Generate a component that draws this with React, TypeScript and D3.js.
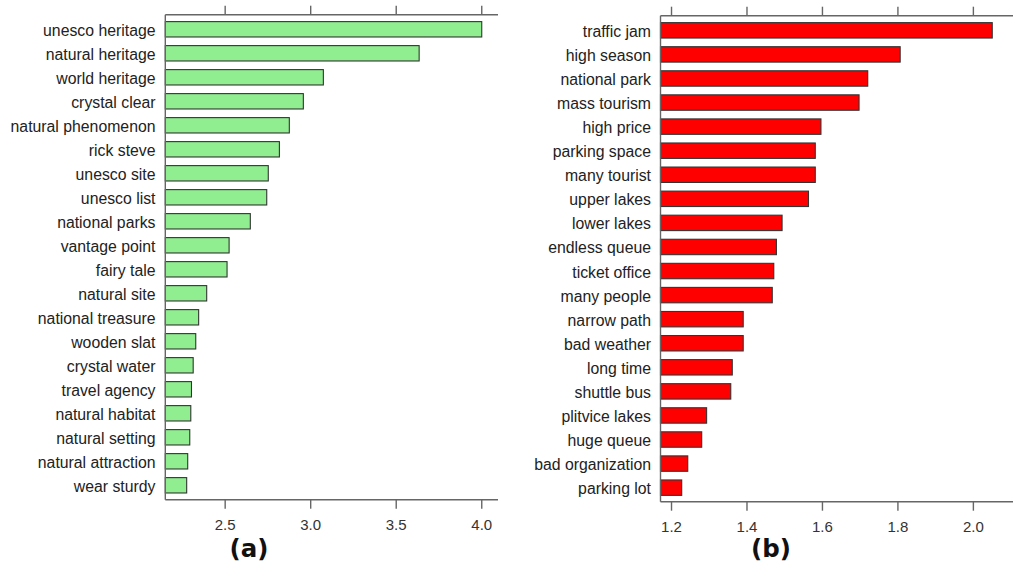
import React from "react";
import * as d3 from "d3";

// Panel (a): positive terms
const termsA = [
  "unesco heritage", "natural heritage", "world heritage", "crystal clear",
  "natural phenomenon", "rick steve", "unesco site", "unesco list",
  "national parks", "vantage point", "fairy tale", "natural site",
  "national treasure", "wooden slat", "crystal water", "travel agency",
  "natural habitat", "natural setting", "natural attraction", "wear sturdy",
];
const valuesA = [
  4.0, 3.634, 3.074, 2.957, 2.875, 2.817, 2.752, 2.743, 2.647, 2.523,
  2.511, 2.392, 2.345, 2.328, 2.313, 2.303, 2.299, 2.293, 2.281, 2.275,
];
const ticksA = [2.5, 3.0, 3.5, 4.0];

// Panel (b): negative terms
const termsB = [
  "traffic jam", "high season", "national park", "mass tourism", "high price",
  "parking space", "many tourist", "upper lakes", "lower lakes", "endless queue",
  "ticket office", "many people", "narrow path", "bad weather", "long time",
  "shuttle bus", "plitvice lakes", "huge queue", "bad organization", "parking lot",
];
const valuesB = [
  2.05, 1.806, 1.72, 1.697, 1.596, 1.581, 1.581, 1.563, 1.493, 1.478,
  1.471, 1.467, 1.39, 1.39, 1.361, 1.357, 1.293, 1.28, 1.243, 1.227,
];
const ticksB = [1.2, 1.4, 1.6, 1.8, 2.0];

const LABEL_FONT = "'Liberation Sans', Arial, sans-serif";
const AXIS_COLOR = "#666";

type PanelProps = {
  terms: string[];
  values: number[];
  ticks: number[];
  domain: [number, number];
  xRange: [number, number];
  yRange: [number, number];
  axisTop: number;
  axisBottom: number;
  fill: string;
  tag: string;
  tagX: number;
  tickFmt: (v: number) => string;
  labelX: number;
};

function Panel(p: PanelProps) {
  const x = d3.scaleLinear().domain(p.domain).range(p.xRange);
  const y = d3
    .scaleBand<string>()
    .domain(p.terms)
    .range(p.yRange)
    .paddingInner(0.36)
    .paddingOuter(0.18);
  const x0 = p.xRange[0];
  const x1 = p.xRange[1];
  const tickLen = 9;
  return (
    <g>
      {/* bars */}
      {p.terms.map((t, i) => (
        <rect
          key={t}
          x={x0}
          y={y(t)!}
          width={x(p.values[i]) - x0}
          height={y.bandwidth()}
          fill={p.fill}
          stroke="#333"
          strokeWidth={1.1}
        />
      ))}
      {/* category labels */}
      {p.terms.map((t) => (
        <text
          key={"l" + t}
          x={p.labelX}
          y={y(t)! + y.bandwidth() / 2 + 6.5}
          textAnchor="end"
          fontFamily={LABEL_FONT}
          fontSize={15.8}
          fill="#222"
        >
          {t}
        </text>
      ))}
      {/* axes frame: top, bottom, left */}
      <line x1={x0} x2={x1} y1={p.axisTop} y2={p.axisTop} stroke={AXIS_COLOR} strokeWidth={1.4} />
      <line x1={x0} x2={x1} y1={p.axisBottom} y2={p.axisBottom} stroke={AXIS_COLOR} strokeWidth={1.4} />
      <line x1={x0} x2={x0} y1={p.axisTop} y2={p.axisBottom} stroke={AXIS_COLOR} strokeWidth={1.4} />
      {p.ticks.map((v) => (
        <g key={"t" + v}>
          <line x1={x(v)} x2={x(v)} y1={p.axisTop} y2={p.axisTop - tickLen} stroke={AXIS_COLOR} strokeWidth={1.4} />
          <line x1={x(v)} x2={x(v)} y1={p.axisBottom} y2={p.axisBottom + tickLen} stroke={AXIS_COLOR} strokeWidth={1.4} />
          <text
            x={x(v)}
            y={p.axisBottom + 30.5}
            textAnchor="middle"
            fontFamily={LABEL_FONT}
            fontSize={15}
            fill="#333"
          >
            {p.tickFmt(v)}
          </text>
        </g>
      ))}
      <text
        x={p.tagX}
        y={556.5}
        textAnchor="middle"
        fontFamily="'DejaVu Sans', sans-serif"
        fontWeight="bold"
        fontSize={24.5}
        fill="#111"
      >
        {p.tag}
      </text>
    </g>
  );
}

export default function App() {
  const fmt = d3.format(".1f");
  return (
    <svg
      width={1013}
      height={562}
      style={{ position: "absolute", left: 0, top: 0, background: "#fff" }}
    >
      <rect width={1013} height={562} fill="#fff" />
      <Panel
        terms={termsA}
        values={valuesA}
        ticks={ticksA}
        domain={[2.15, 4.095]}
        xRange={[165.3, 498]}
        yRange={[17.3, 497.3]}
        axisTop={14.7}
        axisBottom={499.7}
        fill="#90ee90"
        tag="(a)"
        tagX={249}
        tickFmt={fmt}
        labelX={155.5}
      />
      <Panel
        terms={termsB}
        values={valuesB}
        ticks={ticksB}
        domain={[1.1708, 2.105]}
        xRange={[660.5, 1013]}
        yRange={[18.3, 499.7]}
        axisTop={15.7}
        axisBottom={501.7}
        fill="#ff0000"
        tag="(b)"
        tagX={771}
        tickFmt={fmt}
        labelX={651}
      />
    </svg>
  );
}
